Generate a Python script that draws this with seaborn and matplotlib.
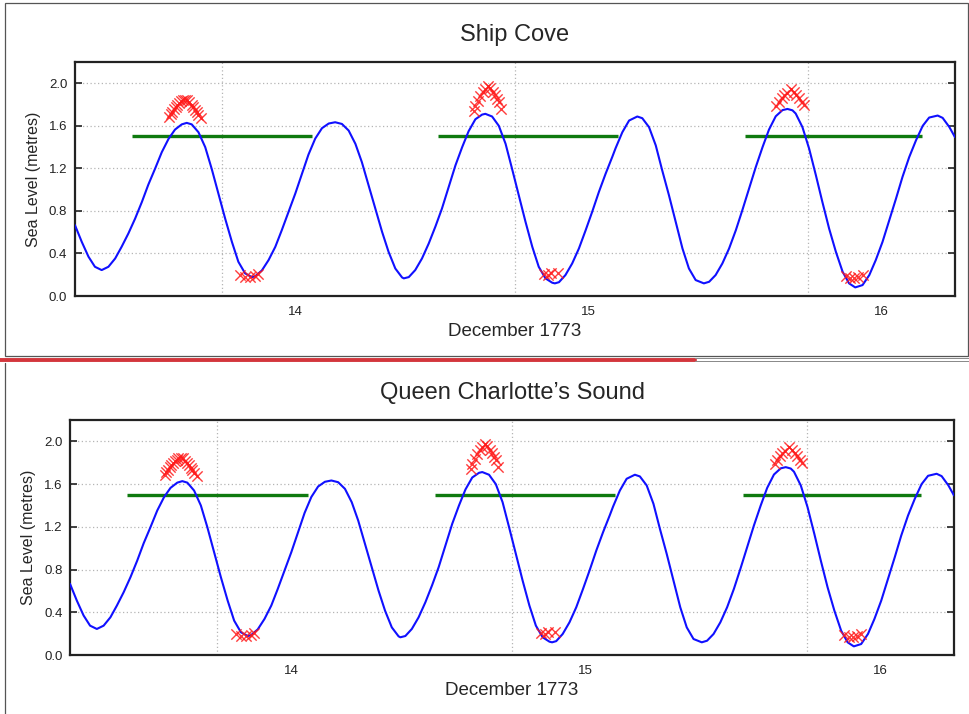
import numpy as np
import pandas as pd
import seaborn as sns
import matplotlib.pyplot as plt
from matplotlib.ticker import MultipleLocator, FuncFormatter
from matplotlib.lines import Line2D

# tide curve (day of December 1773, metres)
tide_day = [13.250, 13.273, 13.296, 13.318, 13.341, 13.364, 13.387, 13.409, 13.432, 13.455,
            13.478, 13.500, 13.523, 13.546, 13.569, 13.591, 13.614, 13.631, 13.648, 13.671,
            13.694, 13.716, 13.739, 13.762, 13.785, 13.807, 13.830, 13.853, 13.864, 13.887,
            13.910, 13.933, 13.955, 13.978, 14.001, 14.024, 14.046, 14.069, 14.092, 14.115,
            14.137, 14.160, 14.183, 14.206, 14.228, 14.251, 14.274, 14.297, 14.319, 14.342,
            14.365, 14.371, 14.388, 14.410, 14.433, 14.456, 14.479, 14.501, 14.524, 14.547,
            14.570, 14.592, 14.615, 14.638, 14.649, 14.672, 14.695, 14.718, 14.740, 14.763,
            14.786, 14.809, 14.831, 14.854, 14.877, 14.886, 14.900, 14.922, 14.945, 14.968,
            14.991, 15.013, 15.036, 15.059, 15.082, 15.093, 15.116, 15.139, 15.167, 15.184,
            15.207, 15.230, 15.252, 15.275, 15.298, 15.321, 15.343, 15.366, 15.394, 15.412,
            15.434, 15.457, 15.480, 15.503, 15.525, 15.548, 15.571, 15.594, 15.616, 15.639,
            15.662, 15.679, 15.696, 15.707, 15.730, 15.753, 15.776, 15.798, 15.821, 15.844,
            15.867, 15.889, 15.910, 15.935, 15.958, 15.980, 16.003, 16.026, 16.049, 16.071,
            16.094, 16.117, 16.140, 16.162, 16.191, 16.208, 16.231, 16.250]
tide_level = [0.666, 0.510, 0.370, 0.275, 0.244, 0.275, 0.353, 0.463, 0.588, 0.728,
              0.884, 1.047, 1.197, 1.353, 1.478, 1.565, 1.614, 1.628, 1.614, 1.540,
              1.400, 1.197, 0.963, 0.728, 0.509, 0.322, 0.213, 0.178, 0.185, 0.240,
              0.338, 0.463, 0.619, 0.790, 0.963, 1.150, 1.330, 1.480, 1.578, 1.622,
              1.634, 1.618, 1.556, 1.431, 1.259, 1.040, 0.822, 0.603, 0.416, 0.259,
              0.175, 0.166, 0.178, 0.244, 0.353, 0.494, 0.655, 0.822, 1.025, 1.228,
              1.400, 1.550, 1.662, 1.706, 1.713, 1.688, 1.600, 1.431, 1.197, 0.947,
              0.697, 0.463, 0.275, 0.166, 0.125, 0.119, 0.130, 0.197, 0.306, 0.447,
              0.619, 0.790, 0.978, 1.150, 1.310, 1.390, 1.540, 1.650, 1.688, 1.672,
              1.588, 1.416, 1.181, 0.947, 0.697, 0.447, 0.259, 0.150, 0.119, 0.134,
              0.197, 0.306, 0.447, 0.619, 0.806, 1.009, 1.213, 1.400, 1.565, 1.690,
              1.748, 1.759, 1.746, 1.716, 1.588, 1.384, 1.134, 0.884, 0.634, 0.416,
              0.228, 0.119, 0.081, 0.103, 0.197, 0.338, 0.509, 0.713, 0.916, 1.119,
              1.306, 1.463, 1.600, 1.678, 1.697, 1.675, 1.588, 1.494]

# observed levels (red crosses)
obs_day = [13.571, 13.577, 13.582, 13.588, 13.594, 13.599, 13.605, 13.612, 13.618, 13.625,
           13.632, 13.640, 13.648, 13.654, 13.660, 13.665, 13.671, 13.680,
           13.813, 13.830, 13.847, 13.864, 13.874,
           14.610, 14.615, 14.624, 14.632, 14.640, 14.649, 14.658, 14.666, 14.674, 14.681,
           14.689, 14.695, 14.704,
           14.850, 14.862, 14.873, 14.895,
           15.641, 15.650, 15.659, 15.667, 15.677, 15.690, 15.701, 15.709, 15.718, 15.727,
           15.735,
           15.878, 15.892, 15.906, 15.920, 15.935]
obs_level = [1.681, 1.713, 1.734, 1.759, 1.775, 1.797, 1.816, 1.830, 1.840, 1.847,
             1.840, 1.820, 1.797, 1.775, 1.753, 1.728, 1.703, 1.672,
             0.200, 0.180, 0.180, 0.190, 0.210,
             1.744, 1.791, 1.838, 1.884, 1.916, 1.947, 1.972, 1.953, 1.922, 1.891,
             1.853, 1.822, 1.759,
             0.210, 0.200, 0.220, 0.220,
             1.787, 1.827, 1.859, 1.890, 1.912, 1.943, 1.921, 1.890, 1.859, 1.827,
             1.796,
             0.190, 0.170, 0.165, 0.180, 0.195]

# green 1.5 m reference segments
seg_start = [13.444, 14.489, 15.533]
seg_end = [14.058, 15.100, 16.137]
seg_level = [1.5, 1.5, 1.5]

day_grid = [13.75, 14.75, 15.75]
titles = ["Ship Cove", "Queen Charlotte\u2019s Sound"]

tide = pd.DataFrame({"day": tide_day, "level": tide_level})
obs = pd.DataFrame({"day": obs_day, "level": obs_level})

sns.set_style("white")
plt.rcParams["font.family"] = ["Liberation Sans", "DejaVu Sans"]

fig = plt.figure(figsize=(9.7, 7.14), dpi=100)
axes_pos = [[0.0773, 0.5854, 0.9072, 0.3277],
            [0.0722, 0.0826, 0.9113, 0.3291]]

for pos, title in zip(axes_pos, titles):
    ax = fig.add_axes(pos)
    ax.set_xlim(13.25, 16.25)
    ax.set_ylim(0, 2.2)

    # dotted grid
    for yv in [0.4, 0.8, 1.2, 1.6, 2.0]:
        ax.axhline(yv, color="#b5b5b5", lw=0.9, ls=(0, (1, 2)), zorder=0)
    for xv in day_grid:
        ax.axvline(xv, color="#b5b5b5", lw=0.9, ls=(0, (1, 2)), zorder=0)

    ax.hlines(seg_level, seg_start, seg_end, color="#0f7a0f", lw=2.4, zorder=2)
    sns.lineplot(data=tide, x="day", y="level", ax=ax, color="#1010ff", lw=1.5,
                 sort=False, estimator=None, zorder=3,
                 solid_joinstyle="round", solid_capstyle="round")
    sns.scatterplot(data=obs, x="day", y="level", ax=ax, marker="x", color="#ff1a1a",
                    s=55, linewidth=1.0, alpha=0.85, zorder=4)

    ax.xaxis.set_major_locator(MultipleLocator(0.25))
    ax.xaxis.set_major_formatter(FuncFormatter(
        lambda v, p: f"{int(round(v))}" if abs(v - round(v)) < 1e-6 else ""))
    ax.set_yticks([0.0, 0.4, 0.8, 1.2, 1.6, 2.0])
    ax.yaxis.set_major_formatter(FuncFormatter(lambda v, p: f"{v:.1f}"))
    ax.tick_params(axis="both", direction="in", length=5, width=1.2, color="#222222",
                   labelsize=9.5, labelcolor="#222222")
    ax.tick_params(axis="x", pad=7.5)
    ax.tick_params(axis="y", pad=5.5, right=True, left=True)
    for s in ax.spines.values():
        s.set_linewidth(1.6)
        s.set_color("#222222")

    ax.set_xlabel("December 1773", fontsize=13.5, labelpad=3)
    ax.set_ylabel("Sea Level (metres)", fontsize=11.5, labelpad=6)
    ax.set_title(title, fontsize=17, pad=15)

# page decoration: frame round the first chart, red rule, left border of the second
fig.add_artist(plt.Rectangle((0.0052, 0.5014), 0.9928, 0.4944, fill=False,
                             edgecolor="#555555", lw=0.9, transform=fig.transFigure))
fig.add_artist(Line2D([0, 0.716], [0.4958, 0.4958], color="#d3363c", lw=2.8,
                      transform=fig.transFigure))
fig.add_artist(Line2D([0.716, 1], [0.4979, 0.4979], color="#888888", lw=0.7,
                      transform=fig.transFigure))
fig.add_artist(Line2D([0.716, 1], [0.4937, 0.4937], color="#888888", lw=0.7,
                      transform=fig.transFigure))
fig.add_artist(Line2D([0.0052, 0.0052], [0, 0.491], color="#555555", lw=0.9,
                      transform=fig.transFigure))

fig.savefig("out.png", dpi=100)
